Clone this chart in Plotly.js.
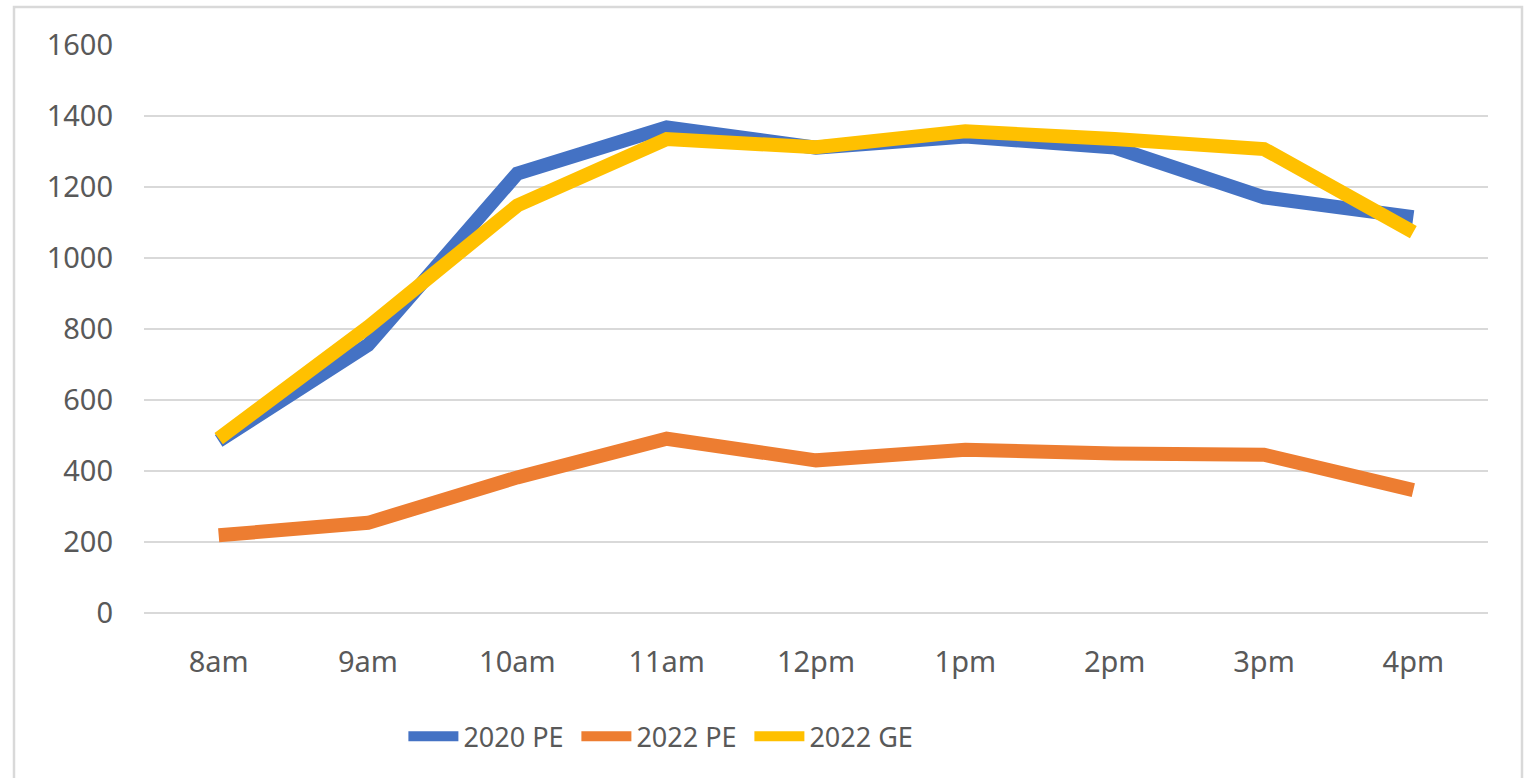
<!DOCTYPE html>
<html>
<head>
<meta charset="utf-8">
<script src="https://cdn.plot.ly/plotly-3.0.1.min.js"></script>
<style>
html,body{margin:0;padding:0;background:#fff;}
#chart{width:1532px;height:778px;}
</style>
</head>
<body>
<div id="chart"></div>
<script>
const categories = ["8am","9am","10am","11am","12pm","1pm","2pm","3pm","4pm"];
const pe2020 = [485, 755, 1238, 1368, 1311, 1342, 1311, 1171, 1115];
const pe2022 = [219, 254, 382, 491, 430, 460, 449, 446, 346];
const ge2022 = [491, 805, 1148, 1335, 1312, 1357, 1335, 1307, 1073];
const seriesNames = ["2020 PE", "2022 PE", "2022 GE"];
const yTicks = [0, 200, 400, 600, 800, 1000, 1200, 1400, 1600];

const colors = ["#4472C4", "#ED7D31", "#FFC000"];
const font = {family: "Noto Sans, Open Sans, sans-serif", size: 29, color: "#595959"};

const traces = [pe2020, pe2022, ge2022].map((vals, i) => ({
  type: "scatter",
  mode: "lines",
  x: categories,
  y: vals,
  name: seriesNames[i],
  line: {color: colors[i], width: 14, shape: "linear"},
  hoverinfo: "x+y+name"
}));

const layout = {
  width: 1532,
  height: 778,
  margin: {l: 144, r: 44, t: 45, b: 165},
  paper_bgcolor: "#ffffff",
  plot_bgcolor: "#ffffff",
  font: font,
  showlegend: true,
  legend: {
    orientation: "h",
    x: 0.193, xanchor: "left",
    y: -0.218, yanchor: "middle",
    font: {family: font.family, size: 27, color: "#595959"},
    entrywidth: 108,
    entrywidthmode: "pixels",
    itemwidth: 50,
    tracegroupgap: 0,
    bgcolor: "rgba(0,0,0,0)"
  },
  xaxis: {
    type: "category",
    range: [-0.5, categories.length - 0.5],
    showgrid: false,
    zeroline: false,
    showline: false,
    ticks: "",
    ticklabelstandoff: 29,
    tickfont: font
  },
  yaxis: {
    range: [0, 1600],
    tickvals: yTicks,
    ticktext: yTicks.map(String),
    showgrid: true,
    gridcolor: "#d9d9d9",
    gridwidth: 2,
    zeroline: true,
    zerolinecolor: "#d9d9d9",
    zerolinewidth: 2,
    showline: false,
    ticks: "",
    ticklabelstandoff: 30,
    tickfont: font
  },
  shapes: [{
    type: "rect",
    xref: "paper", yref: "paper",
    x0: (14 - 144) / 1344, x1: (1522 - 144) / 1344,
    y0: (613 - 790) / 568, y1: (613 - 7) / 568,
    line: {color: "#d9d9d9", width: 2.5},
    fillcolor: "rgba(0,0,0,0)",
    layer: "below"
  }]
};

Plotly.newPlot("chart", traces, layout, {displayModeBar: false, staticPlot: true});
</script>
</body>
</html>
